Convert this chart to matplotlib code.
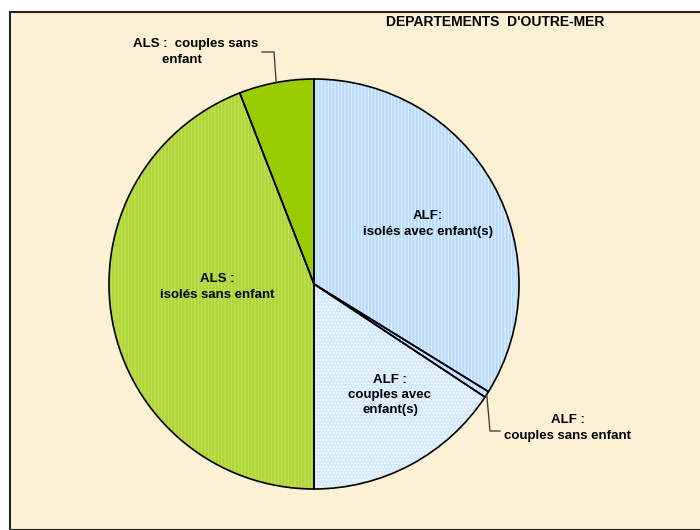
import numpy as np
import matplotlib
matplotlib.use("Agg")
import matplotlib.pyplot as plt
from matplotlib.patches import Rectangle

plt.rcParams['font.family'] = ['Liberation Sans', 'DejaVu Sans']
plt.rcParams['hatch.linewidth'] = 0.8

# Données (part en %)
categories = ["ALF:\nisolés avec enfant(s)",
              "ALF :\ncouples sans enfant",
              "ALF :\ncouples avec\nenfant(s)",
              "ALS :\nisolés sans enfant",
              "ALS :  couples sans\n        enfant"]
parts = [33.8, 0.5, 15.7, 44.1, 5.9]
titre = "DEPARTEMENTS  D'OUTRE-MER"

couleurs = ['#b6d9ff', '#b6d9ff', '#d2e9ff', '#aed436', '#99cc00']
hachures_coul = ['#e6f3ff', '#e6f3ff', 'white', '#c4e25e', '#99cc00']
hachures = ['|||||', '|||||', '.....', '|||||', None]

W, H = 700, 530
fig = plt.figure(figsize=(7, 5.3), dpi=100, facecolor='white')

# cadre fond beige
fig.patches.append(Rectangle((10 / W, 0), 1, 1 - 12 / H, transform=fig.transFigure,
                             facecolor='#fdf1d5', edgecolor='#222222', linewidth=1.5,
                             zorder=-5))

cx, cy, r = 314, 284, 205
ax = fig.add_axes([(cx - r) / W, (H - cy - r) / H, 2 * r / W, 2 * r / H])
ax.set_zorder(2)

# couche remplie + hachures
wedges, _ = ax.pie(parts, startangle=90, counterclock=False, radius=1,
                   colors=couleurs)
for w, hc, h in zip(wedges, hachures_coul, hachures):
    w.set_edgecolor(hc)
    w.set_linewidth(0)
    if h:
        w.set_hatch(h)
# couche contours
contours, _ = ax.pie(parts, startangle=90, counterclock=False, radius=1,
                     colors=['none'] * len(parts),
                     wedgeprops=dict(edgecolor='black', linewidth=1.2, fill=False))
ax.set_xlim(-1, 1)
ax.set_ylim(-1, 1)
ax.set_aspect('equal')
ax.axis('off')

def fx(x):
    return x / W

def fy(y):
    return 1 - y / H

fs = 9.5
kw = dict(fontsize=fs, fontweight='bold', zorder=5)
fig.text(fx(495), fy(22), titre, ha='center', va='center', fontsize=10,
         fontweight='bold', zorder=5)
fig.text(fx(428), fy(224), categories[0], ha='center', va='center', linespacing=1.5, **kw)
fig.text(fx(390), fy(395), categories[2], ha='center', va='center', linespacing=1.35, **kw)
fig.text(fx(217), fy(287), categories[3], ha='center', va='center', linespacing=1.5, **kw)
fig.text(fx(568), fy(428), categories[1], ha='center', va='center', linespacing=1.4, **kw)
fig.text(fx(133), fy(52), categories[4], ha='left', va='center', linespacing=1.35, **kw)

# lignes de rappel
def bord(w):
    a = np.deg2rad((w.theta1 + w.theta2) / 2)
    return np.cos(a), np.sin(a)

def px_to_data(x, y):
    return (x - cx) / r, (cy - y) / r

x0, y0 = bord(wedges[1])
x1, y1 = px_to_data(490, 431)
x2, y2 = px_to_data(500, 431)
ax.plot([x0, x1, x2], [y0, y1, y2], color='#333333', lw=0.9, clip_on=False)

x0, y0 = bord(wedges[4])
x1, y1 = px_to_data(274, 52)
x2, y2 = px_to_data(262, 52)
ax.plot([x0, x1, x2], [y0, y1, y2], color='#333333', lw=0.9, clip_on=False)

fig.savefig('out.png', dpi=100, facecolor='white')
